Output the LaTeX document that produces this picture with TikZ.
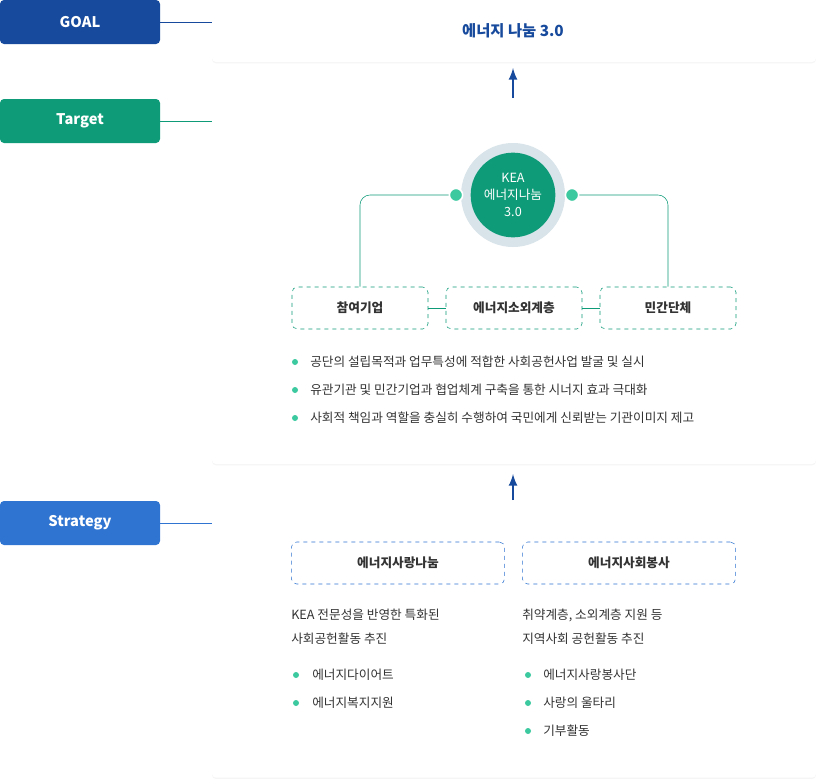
\documentclass[tikz,border=0pt]{standalone}
\usepackage{fontspec}
\setmainfont{Noto Sans CJK KR}
\usetikzlibrary{shadows}
\definecolor{goalblue}{HTML}{174A9C}
\definecolor{targetgreen}{HTML}{0E9B78}
\definecolor{stratblue}{HTML}{2F74D0}
\definecolor{dotgreen}{HTML}{3CC9A0}
\definecolor{ringgray}{HTML}{D8E4EA}
\definecolor{textgray}{HTML}{333333}
\tikzset{
  tag/.style={rounded corners=3pt, minimum width=120pt, minimum height=33pt, text=white, font=\bfseries\fontsize{11}{13}\selectfont},
  panel/.style={fill=white, rounded corners=3pt, drop shadow={opacity=0.08, shadow xshift=0pt, shadow yshift=-1pt}},
  dashbox/.style={draw, dashed, rounded corners=4pt, minimum height=31.5pt, font=\bfseries\fontsize{9.5}{11}\selectfont, text=textgray},
  txt/.style={anchor=west, font=\fontsize{9.5}{11}\selectfont, text=textgray, inner sep=0pt},
  bul/.style={circle, fill=dotgreen, inner sep=0pt, minimum size=4.5pt},
  uparrow/.style={-latex, line width=2pt, goalblue}
}
\begin{document}
\begin{tikzpicture}[x=0.75pt,y=-0.75pt]
  \useasboundingbox (0,0) rectangle (816,778);
  \fill[white] (0,0) rectangle (816,778);
  % left tags
  \node (goal) [tag, fill=goalblue] at (80,22) {GOAL};
  \node (target) [tag, fill=targetgreen] at (80,121) {Target};
  \node (strategy) [tag, fill=stratblue] at (80,523) {Strategy};
  % panels
  \node (p1) [panel, minimum width=453pt, minimum height=46.5pt] at (514,31) {};
  \node (p2) [panel, minimum width=453pt, minimum height=273pt] at (514,282) {};
  \node (p3) [panel, minimum width=453pt, minimum height=208pt] at (514,639) {};
  \draw[goalblue] (goal.east) -- (212,22);
  \draw[targetgreen] (target.east) -- (212,121);
  \draw[stratblue] (strategy.east) -- (212,523);
  % goal
  \node (goaltext) at (513,31) {\bfseries\fontsize{11.5}{13}\selectfont\color{goalblue}에너지 나눔 3.0};
  \coordinate (a1s) at (513,98);
  \coordinate (a1e) at (513,68);
  \draw[uparrow] (a1s) -- (a1e);
  % target
  \node (ring) [circle, fill=ringgray, minimum size=78pt] at (513,195) {};
  \node (kea) [circle, fill=targetgreen, minimum size=62pt, text=white, align=center,
    font=\fontsize{9.5}{12.5}\selectfont] at (513,195) {KEA\\에너지나눔\\3.0};
  \node (corp) [dashbox, targetgreen, minimum width=102pt] at (360,308) {\color{textgray}참여기업};
  \node (poor) [dashbox, targetgreen, minimum width=102pt] at (514,308) {\color{textgray}에너지소외계층};
  \node (civil) [dashbox, targetgreen, minimum width=102pt] at (668,308) {\color{textgray}민간단체};
  \draw[targetgreen] (456,195) -- (370,195) to[out=180,in=90] (360,205) -- (corp.north);
  \draw[targetgreen] (572,195) -- (658,195) to[out=0,in=90] (668,205) -- (civil.north);
  \node (dl) [circle, fill=dotgreen, draw=white, line width=1.2pt, minimum size=10pt, inner sep=0pt] at (456,195) {};
  \node (dr) [circle, fill=dotgreen, draw=white, line width=1.2pt, minimum size=10pt, inner sep=0pt] at (572,195) {};
  \draw[targetgreen] (corp) -- (poor);
  \draw[targetgreen] (poor) -- (civil);
  \foreach \y/\t in {362/공단의 설립목적과 업무특성에 적합한 사회공헌사업 발굴 및 실시,
                     390/유관기관 및 민간기업과 협업체계 구축을 통한 시너지 효과 극대화,
                     418/사회적 책임과 역할을 충실히 수행하여 국민에게 신뢰받는 기관이미지 제고} {
    \node [bul] at (295,\y) {};
    \node [txt] at (310,\y) {\t};
  }
  \coordinate (a2s) at (513,500);
  \coordinate (a2e) at (513,474);
  \draw[uparrow] (a2s) -- (a2e);
  % strategy
  \node (love) [dashbox, stratblue, minimum width=160pt] at (398,563) {\color{textgray}에너지사랑나눔};
  \node (serve) [dashbox, stratblue, minimum width=160pt] at (629,563) {\color{textgray}에너지사회봉사};
  \node [txt] at (291,615) {KEA 전문성을 반영한 특화된};
  \node [txt] at (291,639) {사회공헌활동 추진};
  \node [txt] at (522,615) {취약계층, 소외계층 지원 등};
  \node [txt] at (522,639) {지역사회 공헌활동 추진};
  \foreach \y/\t in {675/에너지다이어트, 703/에너지복지지원} {
    \node [bul] at (296,\y) {};
    \node [txt] at (312,\y) {\t};
  }
  \foreach \y/\t in {675/에너지사랑봉사단, 703/사랑의 울타리, 731/기부활동} {
    \node [bul] at (528,\y) {};
    \node [txt] at (543,\y) {\t};
  }
\end{tikzpicture}
\end{document}
